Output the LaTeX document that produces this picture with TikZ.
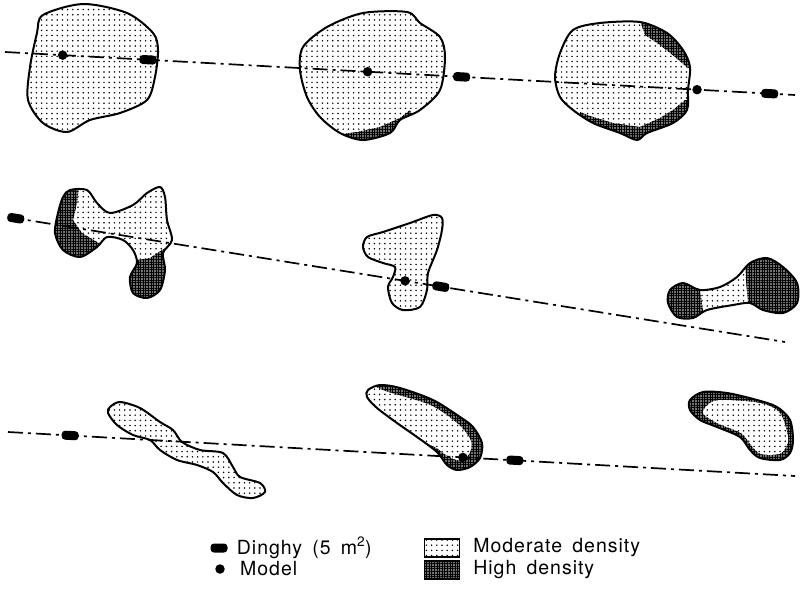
\documentclass[tikz,border=0pt]{standalone}
\usepackage{fontspec}
\setmainfont{TeX Gyre Heros}
\newfontfamily\keyfont[LetterSpace=5, WordSpace=1.6]{TeX Gyre Heros}
\usetikzlibrary{patterns.meta,positioning}
\tikzset{modr/.style={fill=white, postaction={pattern={Dots[distance=5.2pt, radius=.85pt]}}},
  high/.style={fill=black!55, postaction={pattern={Hatch[distance=2.6pt, line width=.5pt]}}},
  rim/.style={draw, line width=2pt, line join=round},
  track/.style={line width=1.7pt, dash pattern=on 15pt off 5pt on 3pt off 5pt},
  dinghy/.style={fill=black, rounded corners=3.5pt, minimum width=17pt, minimum height=9pt, inner sep=0pt, sloped},
  model/.style={circle, fill=black, minimum size=9.5pt, inner sep=0pt},
  swatch/.style={draw, line width=1.3pt, minimum width=35pt, minimum height=18pt, inner sep=0pt},
  lbl/.style={font=\keyfont\fontsize{19.5}{21}\selectfont, inner sep=0pt}}

% school outlines (pixel grid, y downwards)
\newcommand{\schoolA}{plot[smooth cycle] coordinates {(43,15) (83,4) (127,13) (153,33) (158,50) (155,77) (147,100) (120,113) (90,120) (67,132) (43,123) (28,100) (30,67) (37,33)}}
\newcommand{\schoolB}{plot[smooth cycle] coordinates {(303,47) (327,27) (363,13) (407,12) (420,23) (440,37) (445,57) (440,90) (420,110) (400,120) (390,133) (363,140) (340,133) (320,117) (307,97) (300,70)}}
\newcommand{\schoolC}{plot[smooth cycle] coordinates {(573,30) (600,23) (640,22) (667,33) (683,50) (690,67) (688,90) (687,110) (673,123) (647,133) (637,140) (620,133) (593,123) (573,110) (560,97) (555,77) (560,53)}}
\newcommand{\schoolD}{plot[smooth cycle] coordinates {(70,190) (87,190) (97,203) (110,213) (133,205) (147,193) (160,187) (165,197) (167,220) (172,240) (163,253) (165,270) (160,290) (147,298) (133,293) (130,277) (137,263) (133,250) (123,240) (107,237) (97,247) (80,257) (63,250) (55,233) (58,213) (63,197)}}
\newcommand{\schoolE}{plot[smooth cycle] coordinates {(367,237) (383,232) (410,223) (433,215) (442,218) (442,230) (437,250) (428,273) (427,290) (420,307) (403,310) (392,303) (388,287) (393,277) (395,267) (383,263) (368,257) (363,247)}}
\newcommand{\schoolF}{plot[smooth cycle] coordinates {(670,290) (683,283) (700,290) (720,287) (737,277) (750,263) (767,258) (783,267) (797,283) (797,303) (783,313) (763,310) (750,303) (733,305) (707,310) (693,318) (677,317) (668,303)}}
\newcommand{\schoolG}{plot[smooth cycle] coordinates {(110,407) (120,402) (140,408) (160,422) (173,430) (182,442) (200,450) (223,453) (233,467) (240,477) (260,483) (265,492) (253,498) (237,495) (223,483) (213,472) (197,465) (177,460) (160,450) (150,440) (133,435) (117,425) (108,413)}}
\newcommand{\schoolH}{plot[smooth cycle] coordinates {(368,390) (380,385) (400,388) (433,400) (460,417) (473,427) (482,443) (480,458) (470,467) (457,470) (447,465) (437,452) (417,437) (397,423) (377,408) (367,397)}}
\newcommand{\schoolI}{plot[smooth cycle] coordinates {(690,400) (703,392) (727,393) (757,400) (777,407) (790,420) (793,440) (790,453) (780,460) (760,458) (750,450) (740,437) (717,427) (700,420) (690,410)}}

\begin{document}
\begin{tikzpicture}[x=1pt, y=-1pt]
  \useasboundingbox (0,0) rectangle (801,592);
  % schools: moderate fill, high-density parts clipped inside
  \foreach \s in {\schoolA, \schoolB, \schoolC, \schoolD, \schoolE, \schoolF, \schoolG, \schoolH, \schoolI}{\fill[modr] \s;}
  \begin{scope}
    \clip \schoolB;
    \fill[high] (335,135) -- (357,132) -- (380,127) -- (400,118) -- (410,110) -- (425,150) -- (330,150) -- cycle;
  \end{scope}
  \begin{scope}
    \clip \schoolC;
    \fill[high] (638,15) -- (645,35) -- (660,45) -- (675,57) -- (688,68) -- (700,68) -- (700,15) -- cycle;
    \fill[high] (580,112) -- (590,116) -- (613,123) -- (640,127) -- (660,118) -- (673,110) -- (685,100) -- (700,100) -- (700,150) -- (580,150) -- cycle;
  \end{scope}
  \begin{scope}
    \clip \schoolD;
    \fill[high] (50,180) -- (80,180) -- (77,203) -- (73,220) -- (82,233) -- (97,242) -- (108,250) -- (108,270) -- (50,270) -- cycle;
    \fill[high] (125,262) -- (150,258) -- (162,250) -- (175,244) -- (180,310) -- (120,310) -- cycle;
  \end{scope}
  \begin{scope}
    \clip \schoolF;
    \fill[high] (660,270) -- (703,270) -- (700,290) -- (703,310) -- (705,330) -- (660,330) -- cycle;
    \fill[high] (745,250) -- (810,250) -- (810,330) -- (750,330) -- (748,303) -- (746,280) -- cycle;
  \end{scope}
  \begin{scope}
    \clip \schoolH;
    \fill[high] (350,370) rectangle (495,480);
    \fill[modr] plot[smooth cycle] coordinates {(360,380) (385,391) (430,405) (458,424) (471,441) (469,454) (458,460) (446,455) (435,447) (415,439) (395,428) (372,412) (355,395)};
  \end{scope}
  \begin{scope}
    \clip \schoolI;
    \fill[high] (680,380) rectangle (800,470);
    \fill[modr] plot[smooth cycle] coordinates {(710,403) (723,400) (760,403) (780,413) (788,437) (786,447) (779,454) (761,454) (751,445) (741,433) (717,423) (703,413)};
  \end{scope}
  \foreach \s in {\schoolA, \schoolB, \schoolC, \schoolD, \schoolE, \schoolF, \schoolG, \schoolH, \schoolI}{\draw[rim] \s;}

  % transects
  \coordinate (t1a) at (5,52);   \coordinate (t1b) at (795,95);
  \coordinate (t2a) at (8,217);  \coordinate (t2b) at (785,342);
  \coordinate (t3a) at (8,432);  \coordinate (t3b) at (795,476);
  \draw[track] (t1a) -- (t1b)
    node[model, pos=0.073] (m1) {} node[dinghy, pos=0.181] (d1) {}
    node[model, pos=0.459] (m2) {} node[dinghy, pos=0.578] (d2) {}
    node[model, pos=0.876] (m3) {} node[dinghy, pos=0.968] (d3) {};
  \draw[track] (t2a) -- (t2b)
    node[dinghy, pos=0.01] (d4) {}
    node[model, pos=0.511] (m4) {} node[dinghy, pos=0.557] (d5) {};
  \draw[track] (t3a) -- (t3b)
    node[dinghy, pos=0.079] (d6) {}
    node[model, pos=0.578] (m5) {} node[dinghy, pos=0.644] (d7) {};

  % key
  \node[dinghy] (kd) at (219,548) {};
  \node[lbl, right=9pt of kd] {Dinghy (5 m\textsuperscript{2})};
  \node[model] (km) at (220,569) {};
  \node[lbl, right=15pt of km] {Model};
  \node[swatch, modr] (ks1) at (442,548) {};
  \node[lbl, right=13pt of ks1] {Moderate density};
  \node[swatch, high] (ks2) at (442,570) {};
  \node[lbl, right=13pt of ks2] {High density};
\end{tikzpicture}
\end{document}
